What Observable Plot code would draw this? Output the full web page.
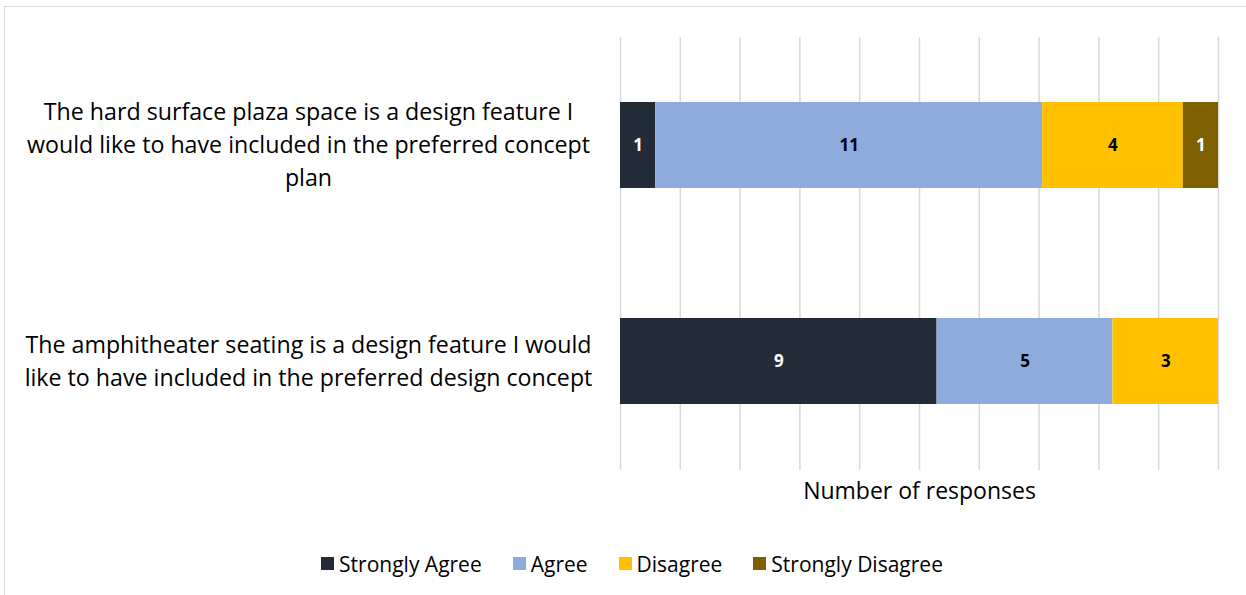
<!DOCTYPE html>
<html><head><meta charset="utf-8">
<script src="https://cdn.jsdelivr.net/npm/d3@7"></script>
<script src="https://cdn.jsdelivr.net/npm/@observablehq/plot@0.6"></script>
<style>
body{margin:0;background:#fff;width:1246px;height:595px;overflow:hidden;position:relative;font-family:"Open Sans",sans-serif;}
#frame{position:absolute;left:4px;top:6px;width:1260px;height:620px;border:1px solid #d9d9d9;box-sizing:border-box;}
#chart{position:absolute;left:0;top:0;}
#legend{position:absolute;top:547px;left:0;width:1246px;display:flex;justify-content:center;padding-left:49px;box-sizing:border-box;}
#legend .lg-swatch{margin-right:31px;}
#legend .lg-swatch > svg{margin-right:5px;}
</style></head>
<body><div id="frame"></div><div id="chart"></div><div id="legend"></div>
<script>
const statements = [
  "The hard surface plaza space is a design feature I would like to have included in the preferred concept plan",
  "The amphitheater seating is a design feature I would like to have included in the preferred design concept"
];
const statementLines = [
  "The hard surface plaza space is a design feature I\nwould like to have included in the preferred concept\nplan",
  "The amphitheater seating is a design feature I would\nlike to have included in the preferred design concept"
];
const responses = ["Strongly Agree", "Agree", "Disagree", "Strongly Disagree"];
const plazaCounts = [1, 11, 4, 1];
const amphitheaterCounts = [9, 5, 3, 0];
const responseColors = ["#232b36", "#8faadc", "#ffc000", "#7f6000"];
const labelColors = ["#ffffff", "#000000", "#000000", "#ffffff"];
const gridTicks = d3.range(0, 11).map(i => i / 10);
const xLabel = "Number of responses";

const table = [];
[plazaCounts, amphitheaterCounts].forEach((counts, si) => {
  counts.forEach((c, ri) => {
    if (c > 0) table.push({statement: statements[si], response: responses[ri], count: c});
  });
});

const stackOpts = {x: "count", y: "statement", order: responses, offset: "normalize"};

const chart = Plot.plot({
  width: 1246,
  height: 525,
  marginLeft: 620,
  marginRight: 28,
  marginTop: 37,
  marginBottom: 55,
  style: {fontFamily: "'Open Sans', sans-serif", background: "transparent"},
  x: {domain: [0, 1], axis: null},
  y: {domain: statements, paddingInner: 0.6, paddingOuter: 0.3, label: null},
  color: {domain: responses, range: responseColors},
  marks: [
    Plot.gridX(gridTicks, {stroke: "#d9d9d9", strokeOpacity: 1, strokeWidth: 1.5}),
    Plot.barX(table, Plot.stackX({...stackOpts, fill: "response"})),
    Plot.text(table, Plot.stackX({...stackOpts, text: "count", fill: d => labelColors[responses.indexOf(d.response)], fontSize: 17, fontWeight: "bold"})),
    Plot.axisY({tickSize: 0, tickFormat: d => statementLines[statements.indexOf(d)], fontSize: 23.2, textAnchor: "middle", dx: -303, dy: -3, lineHeight: 1.43, fill: "#000"}),
    Plot.text([xLabel], {text: d => d, frameAnchor: "bottom", dy: 28, fontSize: 23, fill: "#000"})
  ]
});
document.getElementById("chart").appendChild(chart);

const legend = Plot.legend({
  color: {domain: responses, range: responseColors},
  legend: "swatches",
  swatchSize: 13,
  className: "lg",
  style: {fontSize: "21px", fontFamily: "'Open Sans', sans-serif", color: "#000"}
});
document.getElementById("legend").appendChild(legend);
</script></body></html>
